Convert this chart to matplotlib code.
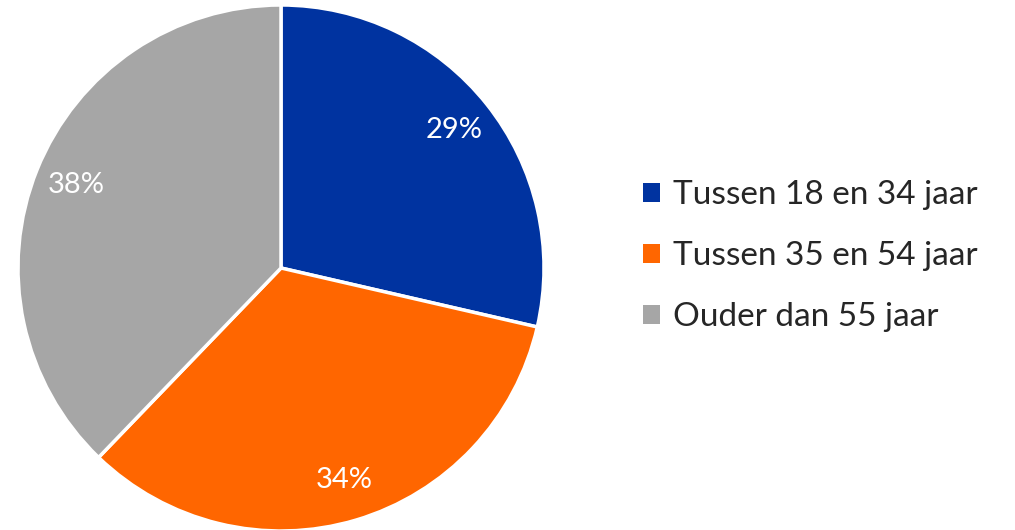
import matplotlib
matplotlib.use("Agg")
import matplotlib.pyplot as plt
from matplotlib.patches import Patch

# age groups and their share (%)
categories = ['Tussen 18 en 34 jaar', 'Tussen 35 en 54 jaar', 'Ouder dan 55 jaar']
shares = [28.6, 33.6, 37.8]
colors = ['#0033A0', '#FF6600', '#A6A6A6']

plt.rcParams['font.family'] = ['Lato', 'DejaVu Sans']

fig = plt.figure(figsize=(10.15, 5.3), dpi=100)
# pie centre ~ (281, 268) px, radius ~263 px
ax = fig.add_axes([18 / 1015, (530 - 268 - 263) / 530, 526 / 1015, 526 / 530])

wedges, texts, autotexts = ax.pie(
    shares, colors=colors, startangle=90, counterclock=False,
    autopct='%.0f%%', pctdistance=0.84,
    wedgeprops=dict(edgecolor='white', linewidth=2.5),
    textprops=dict(color='white', fontsize=21),
)
ax.set_xlim(-1, 1)
ax.set_ylim(-1, 1)
ax.set_aspect('equal')

handles = [Patch(facecolor=c, edgecolor='none') for c in colors]
fig.legend(handles, categories, loc='center left', bbox_to_anchor=(613 / 1015, 1 - 256 / 530),
           frameon=False, fontsize=24, labelcolor='#262626',
           handlelength=0.5, handleheight=0.5, handletextpad=0.4, labelspacing=0.93)

fig.savefig('out.png', dpi=100)
